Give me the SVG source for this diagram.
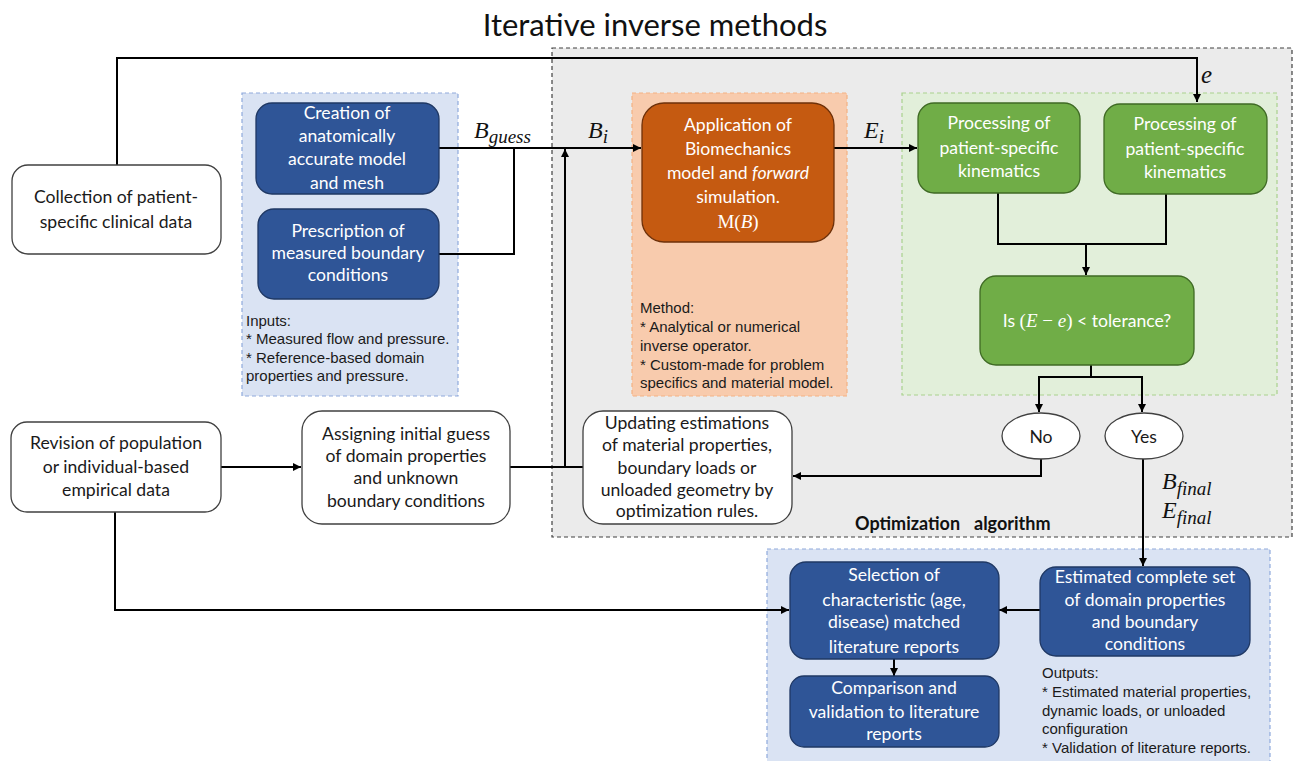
<svg xmlns="http://www.w3.org/2000/svg" width="1293" height="761" viewBox="0 0 1293 761">
<style>
.bg{fill:#ffffff}
.region{stroke-width:1.2;stroke-dasharray:4,3}
.gray{fill:#ebebeb;stroke:#404040}
.blueR{fill:#dae3f3;stroke:#8faadc}
.orangeR{fill:#f8cbad;stroke:#f4b183}
.greenR{fill:#e2efda;stroke:#a9d18e}
.white{fill:#ffffff;stroke:#404040;stroke-width:1.3}
.blue{fill:#2f5597;stroke:#1f3864;stroke-width:1.3}
.orange{fill:#c55a11;stroke:#6e310a;stroke-width:1.3}
.green{fill:#70ad47;stroke:#3f6a24;stroke-width:1.3}
.t{font-family:Lato,"Open Sans",sans-serif;font-size:17.6px;text-anchor:middle;fill:#1a1a1a}
.tw{font-family:Lato,"Open Sans",sans-serif;font-size:17.6px;text-anchor:middle;fill:#ffffff}
.note{font-family:"Liberation Sans",Arial,sans-serif;font-size:15px;fill:#1a1a1a}
.m{font-family:"Liberation Serif","DejaVu Serif",serif;font-style:italic;fill:#111}
.conn{fill:none;stroke:#000;stroke-width:2}
</style>
<defs>
<marker id="arr" viewBox="0 0 10 10" refX="10" refY="5" markerWidth="9" markerHeight="8" markerUnits="userSpaceOnUse" orient="auto">
<path d="M0,0 L10,5 L0,10 z" fill="#000"/>
</marker>
</defs>
<rect class="bg" x="0" y="0" width="1293" height="761"/>
<text x="655" y="36" style="font-family:Lato,'Open Sans',sans-serif;font-size:31px;text-anchor:middle;fill:#111">Iterative inverse methods</text>

<g id="regions">
<rect class="region gray" x="552" y="48" width="740" height="489"/>
<rect class="region blueR" x="242" y="93" width="216" height="303"/>
<rect class="region orangeR" x="632" y="93" width="215" height="303"/>
<rect class="region greenR" x="902" y="93" width="375" height="302"/>
<rect class="region blueR" x="767" y="549" width="503" height="214"/>
</g>

<g id="connectors">
<polyline class="conn" points="117,165 117,58 1197,58 1197,102" marker-end="url(#arr)"/>
<line class="conn" x1="439" y1="148" x2="641" y2="148" marker-end="url(#arr)"/>
<polyline class="conn" points="439,254 514,254 514,148"/>
<line class="conn" x1="510" y1="467" x2="583" y2="467"/>
<line class="conn" x1="565" y1="467" x2="565" y2="149" marker-end="url(#arr)"/>
<line class="conn" x1="834" y1="148" x2="917" y2="148" marker-end="url(#arr)"/>
<polyline class="conn" points="998,193 998,244 1166,244 1166,194"/>
<line class="conn" x1="1086" y1="244" x2="1086" y2="275" marker-end="url(#arr)"/>
<line class="conn" x1="1091" y1="365" x2="1091" y2="377"/>
<polyline class="conn" points="1039,412 1039,377 1142,377 1142,412"/>
<line class="conn" x1="1039" y1="377" x2="1039" y2="412" marker-end="url(#arr)"/>
<line class="conn" x1="1142" y1="377" x2="1142" y2="412" marker-end="url(#arr)"/>
<polyline class="conn" points="1041,459 1041,476 793,476" marker-end="url(#arr)"/>
<line class="conn" x1="1143" y1="459" x2="1143" y2="566" marker-end="url(#arr)"/>
<line class="conn" x1="221" y1="467" x2="301" y2="467" marker-end="url(#arr)"/>
<polyline class="conn" points="115,512 115,610 789,610" marker-end="url(#arr)"/>
<line class="conn" x1="1040" y1="610" x2="999" y2="610" marker-end="url(#arr)"/>
<line class="conn" x1="894" y1="659" x2="894" y2="676" marker-end="url(#arr)"/>
</g>

<g id="labels">
<text class="m" x="474" y="138" font-size="24">B<tspan font-size="19" dy="5">guess</tspan></text>
<text class="m" x="588" y="138" font-size="24">B<tspan font-size="19" dy="5">i</tspan></text>
<text class="m" x="864" y="138" font-size="24">E<tspan font-size="19" dy="5">i</tspan></text>
<text class="m" x="1201" y="83" font-size="25">e</text>
<text class="m" x="1162" y="489" font-size="24">B<tspan font-size="19" dy="6">final</tspan></text>
<text class="m" x="1162" y="518" font-size="24">E<tspan font-size="19" dy="6">final</tspan></text>
<text x="855" y="530" style="font-family:Lato,'Open Sans',sans-serif;font-size:18px;font-weight:bold;fill:#111">Optimization<tspan x="974">algorithm</tspan></text>
</g>

<g id="collection">
<rect class="white" x="12" y="165" width="209" height="89" rx="16"/>
<text class="t" x="116" y="203">Collection of patient-</text>
<text class="t" x="116" y="228">specific clinical data</text>
</g>

<g id="creation">
<rect class="blue" x="256" y="103" width="183" height="91" rx="16"/>
<text class="tw" x="347" y="119">Creation of</text>
<text class="tw" x="347" y="142">anatomically</text>
<text class="tw" x="347" y="165">accurate model</text>
<text class="tw" x="347" y="189">and mesh</text>
</g>

<g id="prescription">
<rect class="blue" x="258" y="209" width="181" height="90" rx="16"/>
<text class="tw" x="348" y="237" font-size="16">Prescription of</text>
<text class="tw" x="348" y="259" font-size="16">measured boundary</text>
<text class="tw" x="348" y="281" font-size="16">conditions</text>
</g>

<g id="inputs-note">
<text class="note" x="246" y="326">Inputs:</text>
<text class="note" x="246" y="344">* Measured flow and pressure.</text>
<text class="note" x="246" y="363">* Reference-based domain</text>
<text class="note" x="246" y="381">properties and pressure.</text>
</g>

<g id="application">
<rect class="orange" x="642" y="103" width="192" height="139" rx="22"/>
<text class="tw" x="738" y="131" font-size="18">Application of</text>
<text class="tw" x="738" y="155" font-size="18">Biomechanics</text>
<text class="tw" x="738" y="179" font-size="18">model and <tspan font-style="italic">forward</tspan></text>
<text class="tw" x="738" y="203" font-size="18">simulation.</text>
<text class="tw" x="738" y="228" style="font-family:'Liberation Serif',serif;font-size:19px">M(<tspan font-style="italic">B</tspan>)</text>
</g>

<g id="method-note">
<text class="note" x="640" y="313">Method:</text>
<text class="note" x="640" y="332">* Analytical  or numerical</text>
<text class="note" x="640" y="351">inverse operator.</text>
<text class="note" x="640" y="370">* Custom-made for problem</text>
<text class="note" x="640" y="388">specifics and material model.</text>
</g>

<g id="processing1">
<rect class="green" x="918" y="103" width="162" height="90" rx="16"/>
<text class="tw" x="999" y="129">Processing of</text>
<text class="tw" x="999" y="154">patient-specific</text>
<text class="tw" x="999" y="177">kinematics</text>
</g>

<g id="processing2">
<rect class="green" x="1104" y="104" width="163" height="90" rx="16"/>
<text class="tw" x="1185" y="130">Processing of</text>
<text class="tw" x="1185" y="155">patient-specific</text>
<text class="tw" x="1185" y="178">kinematics</text>
</g>

<g id="tolerance">
<rect class="green" x="980" y="276" width="214" height="89" rx="16"/>
<text class="tw" x="1087" y="327">Is <tspan style="font-family:'Liberation Serif',serif;font-size:19px">(<tspan font-style="italic">E</tspan> − <tspan font-style="italic">e</tspan>)</tspan> &lt; tolerance?</text>
</g>

<g id="no">
<ellipse class="white" cx="1041" cy="436" rx="39" ry="23"/>
<text class="t" x="1041" y="443" font-size="21">No</text>
</g>

<g id="yes">
<ellipse class="white" cx="1144" cy="436" rx="39" ry="23"/>
<text class="t" x="1144" y="443" font-size="21">Yes</text>
</g>

<g id="updating">
<rect class="white" x="583" y="411" width="209" height="113" rx="20"/>
<text class="t" x="687" y="429" font-size="17">Updating estimations</text>
<text class="t" x="687" y="451" font-size="17">of material properties,</text>
<text class="t" x="687" y="474" font-size="17">boundary loads or</text>
<text class="t" x="687" y="496" font-size="17">unloaded geometry by</text>
<text class="t" x="687" y="517" font-size="17">optimization rules.</text>
</g>

<g id="revision">
<rect class="white" x="11" y="422" width="210" height="90" rx="16"/>
<text class="t" x="116" y="449" font-size="18.5">Revision of population</text>
<text class="t" x="116" y="473" font-size="18.5">or individual-based</text>
<text class="t" x="116" y="496" font-size="18.5">empirical data</text>
</g>

<g id="assigning">
<rect class="white" x="302" y="411" width="208" height="113" rx="20"/>
<text class="t" x="406" y="440" font-size="16.5">Assigning initial guess</text>
<text class="t" x="406" y="462" font-size="16.5">of domain properties</text>
<text class="t" x="406" y="484" font-size="16.5">and unknown</text>
<text class="t" x="406" y="507" font-size="16.5">boundary conditions</text>
</g>

<g id="selection">
<rect class="blue" x="790" y="562" width="209" height="97" rx="16"/>
<text class="tw" x="894" y="581" font-size="18.5">Selection of</text>
<text class="tw" x="894" y="606" font-size="18.5">characteristic (age,</text>
<text class="tw" x="894" y="628" font-size="18.5">disease) matched</text>
<text class="tw" x="894" y="653" font-size="18.5">literature reports</text>
</g>

<g id="comparison">
<rect class="blue" x="790" y="676" width="209" height="71" rx="14"/>
<text class="tw" x="894" y="694" font-size="18.5">Comparison and</text>
<text class="tw" x="894" y="718" font-size="18.5">validation to literature</text>
<text class="tw" x="894" y="740" font-size="18.5">reports</text>
</g>

<g id="estimated">
<rect class="blue" x="1040" y="567" width="210" height="89" rx="16"/>
<text class="tw" x="1145" y="583" font-size="16.5">Estimated complete set</text>
<text class="tw" x="1145" y="606" font-size="16.5">of domain properties</text>
<text class="tw" x="1145" y="628" font-size="16.5">and boundary</text>
<text class="tw" x="1145" y="650" font-size="16.5">conditions</text>
</g>

<g id="outputs-note">
<text class="note" x="1042" y="678">Outputs:</text>
<text class="note" x="1042" y="697">* Estimated material properties,</text>
<text class="note" x="1042" y="716">dynamic loads, or unloaded</text>
<text class="note" x="1042" y="734">configuration</text>
<text class="note" x="1042" y="753">* Validation  of literature reports.</text>
</g>
</svg>
